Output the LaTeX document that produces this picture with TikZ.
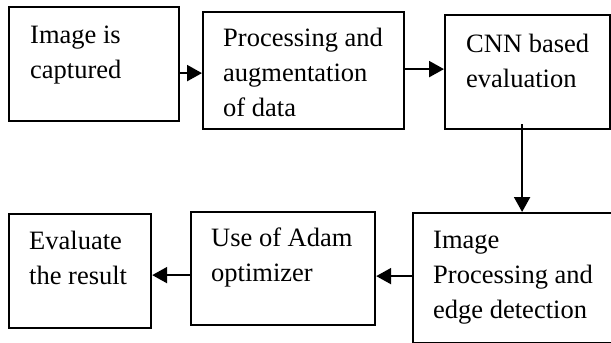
\documentclass[tikz,border=0pt]{standalone}
\usepackage{fontspec}
\setmainfont{Liberation Serif}
\usetikzlibrary{arrows.meta,calc}
\tikzset{
  stepbox/.style={draw=black, line width=2.2pt, rectangle, inner sep=0pt, anchor=north west},
  boxtext/.style={anchor=base west, inner sep=0pt, align=left,
    font=\fontsize{26.5}{35}\selectfont},
  flow/.style={draw=black, line width=2.2pt,
    -{Triangle[length=15pt, width=16pt]}}
}
\begin{document}
\begin{tikzpicture}[x=1pt, y=-1pt]
  \useasboundingbox (0,0) rectangle (611,343);
  \begin{scope}
  \clip (0,0) rectangle (611,343);
  % upper row
  \node[stepbox, minimum width=170pt, minimum height=114pt] (b1) at (8,6) {};
  \node[stepbox, minimum width=201pt, minimum height=117pt] (b2) at (202,11) {};
  \node[stepbox, minimum width=165pt, minimum height=114pt] (b3) at (444,14) {};
  % lower row
  \node[stepbox, minimum width=228pt, minimum height=130pt] (b4) at (412,212) {};
  \node[stepbox, minimum width=184pt, minimum height=113pt] (b5) at (190,211) {};
  \node[stepbox, minimum width=142pt, minimum height=114pt] (b6) at (8,213) {};
  \end{scope}

  % box texts (anchored on the baseline of the last line)
  \node[boxtext] (t1) at ([shift={(22,72)}]b1.north west) {Image is\\captured};
  \node[boxtext] (t2) at ([shift={(21,105)}]b2.north west) {Processing and\\augmentation\\of data};
  \node[boxtext] (t3) at ([shift={(22,73)}]b3.north west) {CNN based\\evaluation};
  \node[boxtext] (t4) at ([shift={(21,106)}]b4.north west) {Image\\Processing and\\edge detection};
  \node[boxtext] (t5) at ([shift={(21,70)}]b5.north west) {Use of Adam\\optimizer};
  \node[boxtext] (t6) at ([shift={(21,71)}]b6.north west) {Evaluate\\the result};

  % connectors
  \draw[flow] ([yshift=-9pt]b1.east) -- ([yshift=-9pt]b1.east -| b2.west);
  \draw[flow] ([yshift=1.5pt]b2.east) -- ([yshift=1.5pt]b2.east -| b3.west);
  \draw[flow] ([xshift=-5.5pt,yshift=6pt]b3.south) -- ([xshift=-5.5pt]b3.south |- b4.north);
  \draw[flow] ([yshift=2pt]b4.west) -- ([yshift=2pt]b4.west -| b5.east);
  \draw[flow] ([yshift=-6.5pt]b5.west) -- ([yshift=-6.5pt]b5.west -| b6.east);
\end{tikzpicture}
\end{document}
